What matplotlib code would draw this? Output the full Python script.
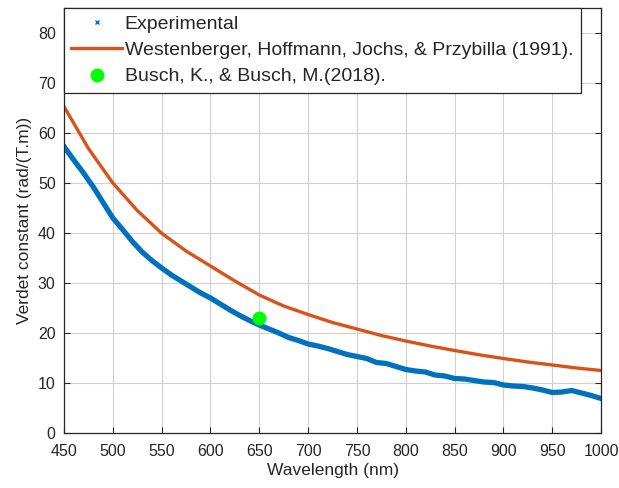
import numpy as np
import matplotlib.pyplot as plt
from matplotlib.lines import Line2D

plt.rcParams['font.family'] = ['Liberation Sans', 'DejaVu Sans']

# experimental data, read every 10 nm
wl_exp = list(range(450, 1001, 10))
v_exp = [57.3, 54.6, 52.0, 49.2, 46.1, 43.0, 40.7, 38.3, 36.2, 34.5,
         33.0, 31.6, 30.4, 29.2, 28.0, 27.0, 25.8, 24.6, 23.5, 22.5,
         21.6, 20.8, 20.0, 19.1, 18.5, 17.8, 17.4, 16.9, 16.3, 15.7,
         15.3, 14.9, 14.1, 13.9, 13.3, 12.7, 12.4, 12.2, 11.6, 11.4,
         10.9, 10.8, 10.5, 10.2, 10.1, 9.6, 9.4, 9.3, 9.0, 8.6,
         8.1, 8.2, 8.5, 8.0, 7.5, 6.9]

# Westenberger et al. (1991), every 25 nm
wl_west = list(range(450, 1001, 25))
v_west = [65.3, 56.9, 50.0, 44.5, 39.95, 36.4, 33.4, 30.4, 27.6, 25.4,
          23.7, 22.1, 20.8, 19.5, 18.4, 17.4, 16.5, 15.65, 14.9, 14.2,
          13.6, 13.0, 12.5]

# Busch & Busch (2018)
wl_busch = [650]
v_busch = [23.0]

blue = '#0072BD'
orange = '#D95319'
dark = '#262626'

fig = plt.figure(figsize=(6.19, 4.88), dpi=100)
ax = fig.add_axes([0.1034, 0.1127, 0.8676, 0.8709])

ax.plot(wl_exp, v_exp, color=blue, lw=3.8, solid_joinstyle='round')
ax.plot(wl_west, v_west, color=orange, lw=2.4, solid_joinstyle='round')
ax.plot(wl_busch, v_busch, 'o', color='#00FF00', ms=9)

ax.set_xlim(450, 1000)
ax.set_ylim(0, 85)
ax.set_xticks(np.arange(450, 1001, 50))
ax.set_yticks(np.arange(0, 81, 10))
ax.grid(True, color='#d0d0d0', lw=0.8)
ax.set_axisbelow(True)
ax.tick_params(direction='in', top=True, right=True, length=4,
               labelsize=11.5, colors=dark)
ax.tick_params(axis='x', pad=8)
ax.tick_params(axis='y', pad=6)
for s in ax.spines.values():
    s.set_color(dark)
    s.set_linewidth(0.9)

ax.set_xlabel('Wavelength (nm)', fontsize=12.5, color=dark, labelpad=3)
ax.set_ylabel('Verdet constant (rad/(T.m))', fontsize=12.5, color=dark,
              labelpad=4)

handles = [
    Line2D([], [], ls='none', marker='x', ms=3, mew=1, color=blue),
    Line2D([], [], color=orange, lw=2.4),
    Line2D([], [], ls='none', marker='o', ms=9, color='#00FF00'),
]
labels = ['Experimental',
          'Westenberger, Hoffmann, Jochs, & Przybilla (1991).',
          'Busch, K., & Busch, M.(2018).']
leg = ax.legend(handles, labels, loc='upper left', bbox_to_anchor=(0, 1),
                borderaxespad=0, fontsize=14, handlelength=2.6,
                handletextpad=0.15, borderpad=0.38, labelspacing=0.44,
                fancybox=False, framealpha=1, edgecolor=dark)
leg.get_frame().set_linewidth(0.9)
for t in leg.get_texts():
    t.set_color(dark)

fig.savefig('out.png', dpi=100)
